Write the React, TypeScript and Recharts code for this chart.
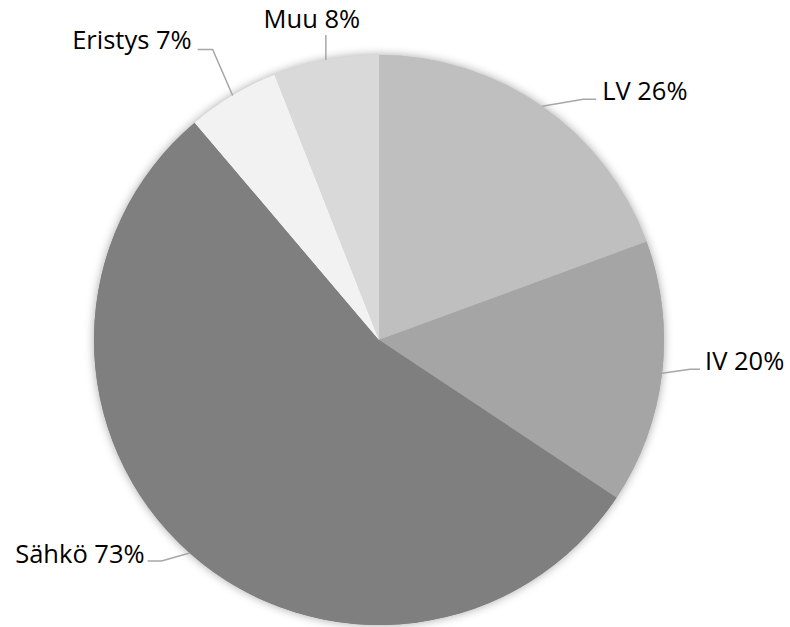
import React from "react";
import { PieChart, Pie, Cell } from "recharts";

const categories = ["LV", "IV", "Sähkö", "Eristys", "Muu"];
const values = [26, 20, 73, 7, 8];
const percentLabels = ["26%", "20%", "73%", "7%", "8%"];
const colors = ["#bfbfbf", "#a5a5a5", "#7f7f7f", "#f2f2f2", "#d9d9d9"];

// leader-line layout relative to the slice's outer mid point
const labelLayout = [
  { ex: 41, ey: -7, h: 13, tx: 6, ty: 1, anchor: "start" },
  { ex: 28, ey: -4, h: 10, tx: 5, ty: 1, anchor: "start" },
  { ex: -28, ey: 8, h: -14, tx: -3, ty: 2, anchor: "end" },
  { ex: -20, ey: -46, h: -15, tx: -6, ty: 0, anchor: "end" },
  { ex: 0, ey: -25, h: 0, tx: -14, ty: -7, anchor: "middle" },
];

const data = categories.map((name, i) => ({ name, value: values[i], label: percentLabels[i] }));

const RAD = Math.PI / 180;

const renderLabel = (props: any) => {
  const { cx, cy, midAngle, outerRadius, index } = props;
  const lay = labelLayout[index];
  const px = cx + outerRadius * Math.cos(-midAngle * RAD);
  const py = cy + outerRadius * Math.sin(-midAngle * RAD);
  const ex = px + lay.ex;
  const ey = py + lay.ey;
  const hx = ex + lay.h;
  const d = data[index];
  return (
    <g key={`lbl-${index}`}>
      <polyline
        points={`${px},${py} ${ex},${ey} ${hx},${ey}`}
        fill="none"
        stroke="#a6a6a6"
        strokeWidth={1.5}
      />
      <text
        x={hx + lay.tx}
        y={ey + lay.ty}
        textAnchor={lay.anchor}
        fill="#000"
        style={{ fontFamily: "'Open Sans', sans-serif", fontSize: 25.5 }}
      >
        {`${d.name} ${d.label}`}
      </text>
    </g>
  );
};

export default function App() {
  return (
    <div style={{ position: "absolute", left: 0, top: 0, width: 790, height: 627, background: "#fff" }}>
      <PieChart width={790} height={627} margin={{ top: 0, right: 0, bottom: 0, left: 0 }}>
        <Pie
          data={data}
          dataKey="value"
          nameKey="name"
          cx={379}
          cy={340}
          outerRadius={285}
          startAngle={90}
          endAngle={-270}
          stroke="none"
          isAnimationActive={false}
          label={false}
          labelLine={false}
        >
          {data.map((d, i) => (
            <Cell
              key={`sh-${i}`}
              fill={colors[i]}
              style={{ filter: "drop-shadow(0px 0px 5px rgba(0,0,0,0.35))" }}
            />
          ))}
        </Pie>
        <Pie
          data={data}
          dataKey="value"
          nameKey="name"
          cx={379}
          cy={340}
          outerRadius={285}
          startAngle={90}
          endAngle={-270}
          stroke="none"
          isAnimationActive={false}
          label={renderLabel}
          labelLine={false}
        >
          {data.map((d, i) => (
            <Cell key={`c-${i}`} fill={colors[i]} />
          ))}
        </Pie>
      </PieChart>
    </div>
  );
}
